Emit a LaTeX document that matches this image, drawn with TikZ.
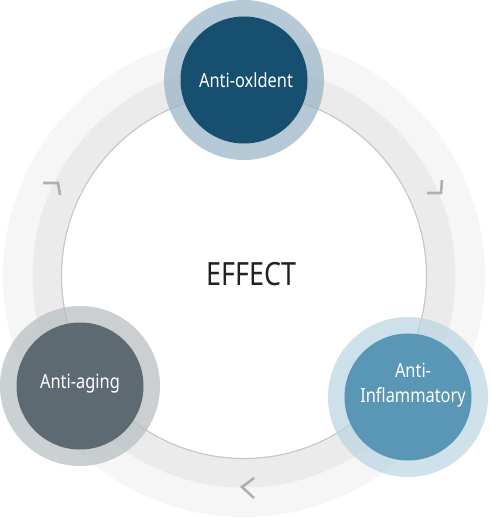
\documentclass[tikz,border=0pt]{standalone}
\usepackage{fontspec}
\setmainfont{Noto Sans}[FakeStretch=0.84]

\definecolor{ringout}{HTML}{F6F6F6}
\definecolor{ringmid}{HTML}{EBEBEB}
\definecolor{ringline}{HTML}{C8C8C8}
\definecolor{chev}{HTML}{B0B0B0}
\definecolor{oxiring}{RGB}{149,179,196}
\definecolor{oxidark}{RGB}{22,79,111}
\definecolor{agering}{RGB}{181,188,192}
\definecolor{agedark}{RGB}{94,106,114}
\definecolor{inflring}{RGB}{186,212,225}
\definecolor{infldark}{RGB}{90,150,182}

\begin{document}
\begin{tikzpicture}[x=1pt,y=-1pt,
  halo/.style={circle,fill opacity=.7,minimum size=160pt,inner sep=0pt},
  core/.style={circle,minimum size=127pt,inner sep=0pt},
  lbl/.style={text=white,align=center,inner sep=0pt,
    font=\fontsize{19.5}{25}\selectfont}]

\useasboundingbox (0,0) rectangle (489,518);

\coordinate (ctr) at (244,276);

% cycle band
\fill[ringout] (ctr) circle (241);
\fill[ringmid] (ctr) circle (211.5);
\fill[white] (ctr) circle (182.5);
\draw[ringline,line width=1.2pt] (ctr) circle (182.5);

% clockwise marks
\draw[chev,line width=2.6pt] (43,183)--(58,183)--(60,195);
\draw[chev,line width=2.6pt] (442,180)--(441,193)--(427,193);
\draw[chev,line width=2.6pt] (254,478)--(242,487)--(254,498);

\node[text=black!87,inner sep=0pt,font=\fontsize{32}{36}\selectfont]
  (effect) at (251.5,274.5) {EFFECT};

% the three effects
\node[halo,fill=oxiring] (oxi) at (244,80) {};
\node[core,fill=oxidark] (oxiin) at (oxi) {};
\node[lbl] (oxitxt) at ([xshift=2pt]oxiin) {Anti-oxldent};

\node[halo,fill=agering] (age) at (80,386) {};
\node[core,fill=agedark] (agein) at (age) {};
\node[lbl] (agetxt) at ([yshift=2pt]agein) {Anti-aging};

\node[halo,fill=inflring] (infl) at (408,397) {};
\node[core,fill=infldark] (inflin) at (infl) {};
\node[lbl] (infltxt) at ([xshift=5pt,yshift=12pt]inflin) {Anti-\\Inflammatory};

\end{tikzpicture}
\end{document}
